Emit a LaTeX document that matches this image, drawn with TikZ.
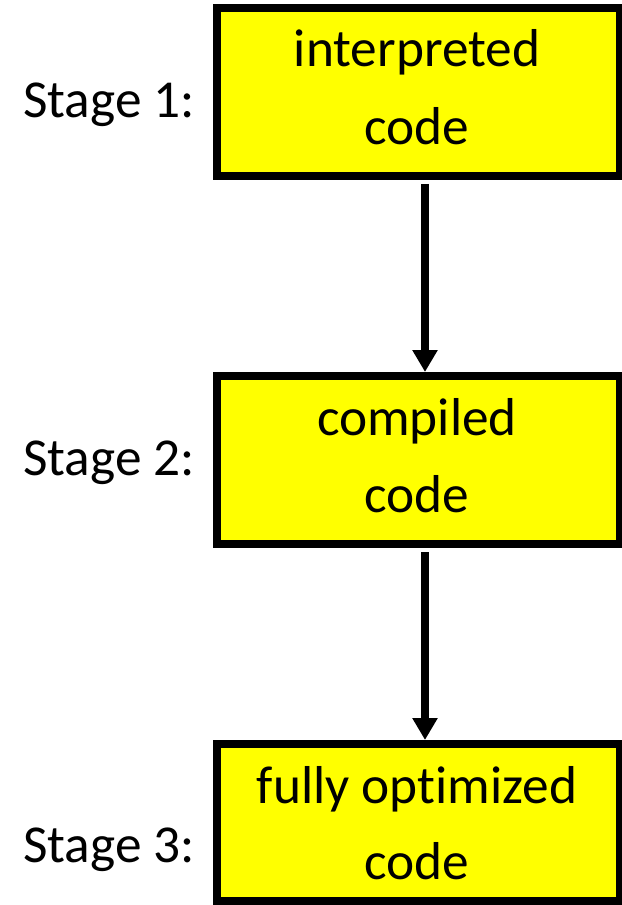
\documentclass[tikz,border=0pt]{standalone}
\usepackage{fontspec}
\setmainfont{Carlito}[Ligatures=NoCommon]
\usetikzlibrary{arrows.meta}
\definecolor{boxyellow}{RGB}{255,255,0}
\tikzset{
  stagebox/.style={draw=black, fill=boxyellow, line width=6pt, minimum width=302.25pt, inner sep=0pt},
  boxtext/.style={anchor=base, inner sep=0pt, font=\fontsize{40}{48}\selectfont},
  stagelabel/.style={anchor=base west, inner sep=0pt, font=\fontsize{40}{48}\selectfont},
  flow/.style={line width=6pt, -{Triangle[width=18pt, length=16.5pt]}, shorten <=3pt}
}
\begin{document}
\begin{tikzpicture}[x=0.75pt, y=-0.75pt]
  \useasboundingbox (0,0) rectangle (621,905);

  % three stage boxes
  \node[stagebox, minimum height=126pt] (b1) at (418,92) {};
  \node[stagebox, minimum height=126pt] (b2) at (418,460) {};
  \node[stagebox, minimum height=117.75pt] (b3) at (418,822.5) {};

  % box contents
  \node[boxtext] (t1a) at (417,67) {interpreted};
  \node[boxtext] (t1b) at (417,145) {code};
  \node[boxtext] (t2a) at (417,435) {compiled};
  \node[boxtext] (t2b) at (417,512) {code};
  \node[boxtext] (t3a) at (417,803) {fully optimized};
  \node[boxtext] (t3b) at (417,879) {code};

  % stage labels
  \node[stagelabel] (s1) at (23,118) {Stage 1:};
  \node[stagelabel] (s2) at (23,475) {Stage 2:};
  \node[stagelabel] (s3) at (23,862) {Stage 3:};

  % arrows between the stages
  \draw[flow] ([xshift=5.25pt]b1.south) -- ([xshift=5.25pt]b2.north);
  \draw[flow] ([xshift=5.25pt]b2.south) -- ([xshift=5.25pt]b3.north);
\end{tikzpicture}
\end{document}
